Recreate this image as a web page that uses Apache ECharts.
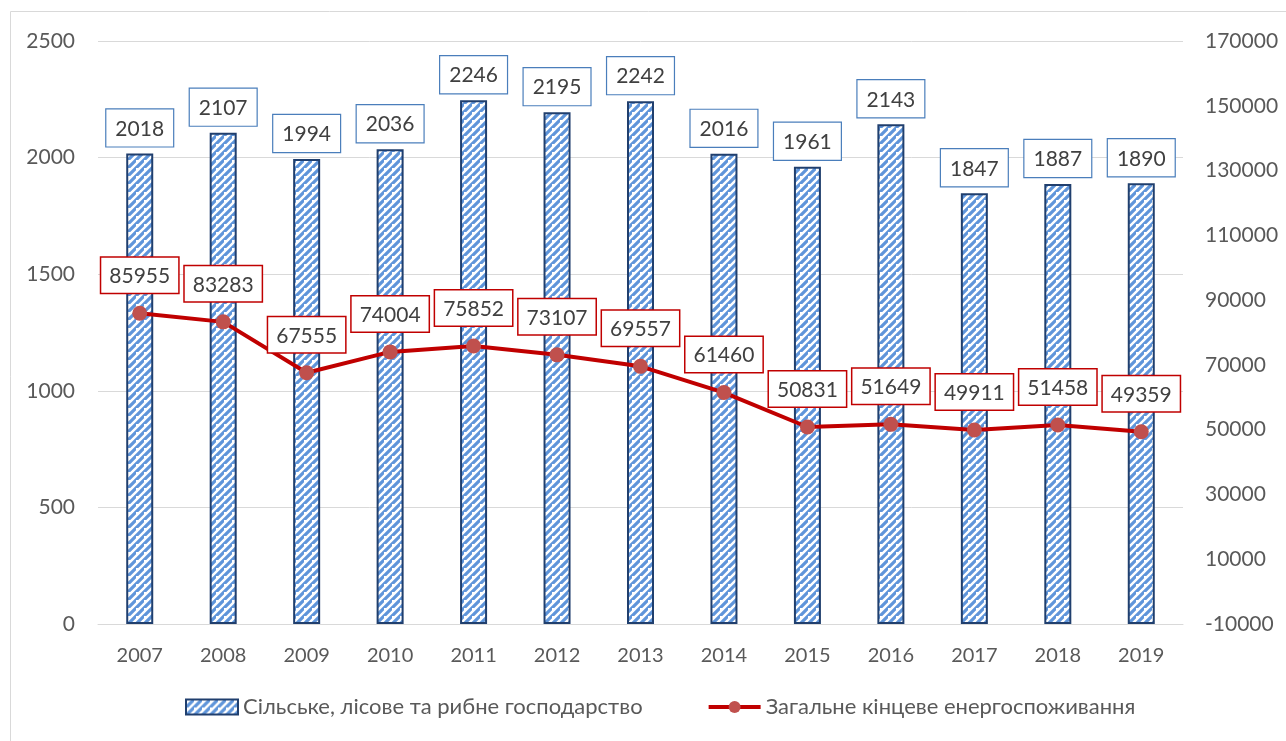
<!DOCTYPE html>
<html>
<head>
<meta charset="utf-8">
<script src="https://cdn.jsdelivr.net/npm/echarts@6/dist/echarts.min.js"></script>
<style>
html,body{margin:0;padding:0;background:#fff;}
#chart{width:1286px;height:741px;}
</style>
</head>
<body>
<div id="chart"></div>
<script>
var years = ['2007','2008','2009','2010','2011','2012','2013','2014','2015','2016','2017','2018','2019'];
var agriValues = [2018, 2107, 1994, 2036, 2246, 2195, 2242, 2016, 1961, 2143, 1847, 1887, 1890];
var totalValues = [85955, 83283, 67555, 74004, 75852, 73107, 69557, 61460, 50831, 51649, 49911, 51458, 49359];
var agriName = 'Сільське, лісове та рибне господарство';
var totalName = 'Загальне кінцеве енергоспоживання';

// hatch pattern for bars
function makeHatch(){
    var s = 8;
    var c = document.createElement('canvas');
    c.width = s; c.height = s;
    var ctx = c.getContext('2d');
    ctx.fillStyle = '#ffffff';
    ctx.fillRect(0,0,s,s);
    ctx.strokeStyle = '#5f95da';
    ctx.lineWidth = 3.2;
    ctx.beginPath();
    ctx.moveTo(-2,s+2); ctx.lineTo(s+2,-2);
    ctx.moveTo(-s-2,2); ctx.lineTo(2,-s-2);
    ctx.moveTo(-2,2*s+2); ctx.lineTo(2*s+2,-2);
    ctx.stroke();
    return c;
}
var hatch = makeHatch();
var font = 'Lato, "Open Sans", sans-serif';

var chart = echarts.init(document.getElementById('chart'));
var option = {
    animation: false,
    textStyle: {fontFamily: font},
    graphic: [{
        type: 'rect',
        shape: {x: 10.5, y: 11.5, width: 1290, height: 740},
        style: {fill: 'none', stroke: '#d9d9d9', lineWidth: 1},
        silent: true
    }],
    grid: {left: 98, right: 103, top: 41, bottom: 117},
    legend: {
        bottom: 18,
        left: 180,
        itemGap: 64,
        itemWidth: 52,
        itemHeight: 15,
        textStyle: {fontSize: 22, color: '#595959', fontFamily: font},
        data: [
            {name: agriName, icon: 'rect'},
            {name: totalName, lineStyle: {width: 4}}
        ]
    },
    xAxis: {
        type: 'category',
        data: years,
        axisLine: {lineStyle: {color: '#d9d9d9', width: 1}},
        axisTick: {show: false},
        axisLabel: {color: '#595959', fontSize: 20, margin: 22}
    },
    yAxis: [{
        type: 'value',
        min: 0, max: 2500, interval: 500,
        axisLine: {show: false},
        axisTick: {show: false},
        axisLabel: {
            color: '#595959', fontSize: 21, margin: 23,
            formatter: function(v){ return String(v); }
        },
        splitLine: {lineStyle: {color: '#d9d9d9', width: 1}}
    }, {
        type: 'value',
        min: -10000, max: 170000, interval: 10000,
        axisLine: {show: false},
        axisTick: {show: false},
        splitLine: {show: false},
        axisLabel: {
            color: '#595959', fontSize: 21, margin: 22,
            formatter: function(v){
                return ((v + 10000) / 10000) % 2 === 0 ? String(v) : '';
            }
        }
    }],
    series: [{
        name: agriName,
        type: 'bar',
        data: agriValues,
        barWidth: 27,
        itemStyle: {
            color: {image: hatch, repeat: 'repeat'},
            borderColor: '#203f6e',
            borderWidth: 2
        },
        label: {
            show: true,
            position: 'top',
            distance: 7,
            fontSize: 21,
            color: '#404040',
            backgroundColor: '#fff',
            borderColor: '#4a7ebb',
            borderWidth: 1.2,
            padding: [9, 9, 7, 9],
            fontFamily: font
        }
    }, {
        name: totalName,
        type: 'line',
        yAxisIndex: 1,
        data: totalValues,
        symbol: 'circle',
        symbolSize: 15,
        lineStyle: {color: '#c00000', width: 4},
        itemStyle: {color: '#c0504d'},
        label: {
            show: true,
            position: 'top',
            distance: 13,
            fontSize: 21,
            color: '#404040',
            backgroundColor: '#fff',
            borderColor: '#c00000',
            borderWidth: 1.5,
            padding: [8, 8, 6, 8],
            fontFamily: font
        },
        z: 3
    }]
};
chart.setOption(option);
</script>
</body>
</html>
